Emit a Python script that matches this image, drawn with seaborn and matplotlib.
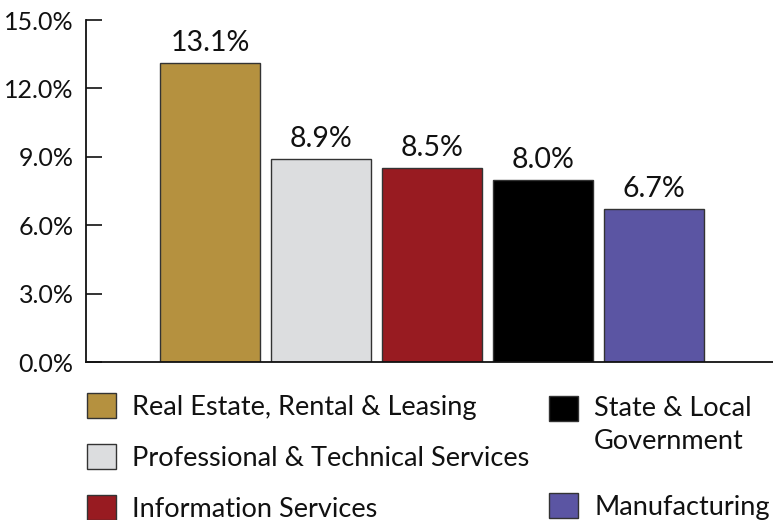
import matplotlib
matplotlib.use("Agg")
import matplotlib.pyplot as plt
import seaborn as sns
from matplotlib.patches import Patch

categories = ["Real Estate, Rental & Leasing", "Professional & Technical Services",
              "Information Services", "State & Local Government", "Manufacturing"]
legend_labels = ["Real Estate, Rental & Leasing", "Professional & Technical Services",
                 "Information Services", "State & Local\nGovernment", "Manufacturing"]
values = [13.1, 8.9, 8.5, 8.0, 6.7]
colors = ["#B5913F", "#DCDDDF", "#981B21", "#000000", "#5B55A3"]
yticks = [0, 3, 6, 9, 12, 15]
ytick_labels = ["0.0%", "3.0%", "6.0%", "9.0%", "12.0%", "15.0%"]

sns.set_theme(style="white")
plt.rcParams["font.family"] = ["Lato", "DejaVu Sans"]

fig = plt.figure(figsize=(7.73, 5.2), dpi=100)
ax = fig.add_axes([86 / 773, 1 - 362 / 520, 1 - 86 / 773, (362 - 20) / 520])

palette = dict(zip(categories, colors))
sns.barplot(x=categories, y=values, hue=categories, palette=palette, order=categories,
            hue_order=categories, width=0.9, edgecolor="#333333", linewidth=1.0,
            legend=False, ax=ax, saturation=1)

for c in ax.containers:
    ax.bar_label(c, labels=[f"{v:.1f}%" for v in c.datavalues], padding=5,
                 fontsize=20.5, color="#111111")

ax.set_ylim(0, 15)
ax.set_xlim(-1.117, 5.07)
ax.set_yticks(yticks)
ax.set_yticklabels(ytick_labels, fontsize=18, color="#111111")
ax.set_xticks([])
ax.set_xlabel("")
ax.set_ylabel("")
ax.tick_params(axis="y", direction="in", length=11.5, width=1.2, color="#111111",
               pad=9, left=True)
for s in ["top", "right"]:
    ax.spines[s].set_visible(False)
for s in ["left", "bottom"]:
    ax.spines[s].set_color("#111111")
    ax.spines[s].set_linewidth(1.3)

handles = [Patch(facecolor=col, edgecolor="#333333", linewidth=1.0) for col in colors]
leg_kw = dict(frameon=False, fontsize=19.5, handlelength=1.07, handleheight=1.07,
              handletextpad=0.6, borderaxespad=0, borderpad=0, labelcolor="#111111")
leg1 = fig.legend(handles[:3], legend_labels[:3], loc="upper left",
                  bbox_to_anchor=(87 / 773, 1 - 393 / 520), labelspacing=0.88, **leg_kw)
leg2 = fig.legend(handles[3:4], legend_labels[3:4], loc="upper left",
                  bbox_to_anchor=(549 / 773, 1 - 396 / 520), **leg_kw)
leg2.get_texts()[0].set_linespacing(1.4)
try:
    leg2._legend_handle_box.get_children()[0].get_children()[0].align = "top"
except Exception:
    pass
leg3 = fig.legend(handles[4:5], legend_labels[4:5], loc="upper left",
                  bbox_to_anchor=(549 / 773, 1 - 493 / 520), **leg_kw)

fig.savefig("out.png", dpi=100)
